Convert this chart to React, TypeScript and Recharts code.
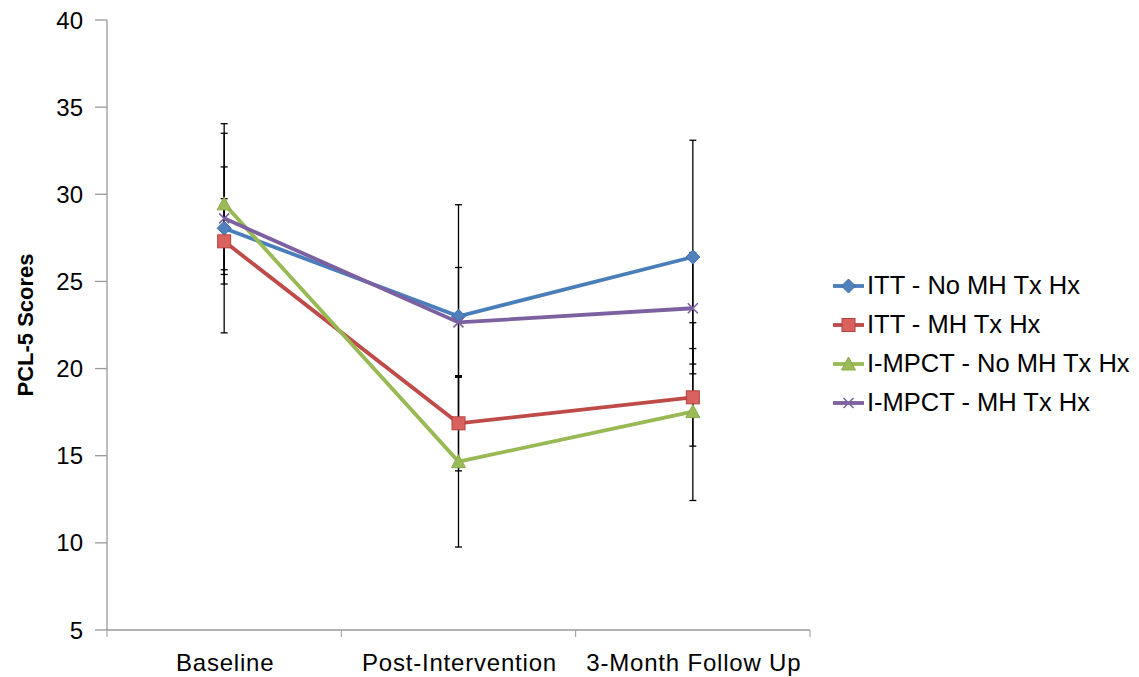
import { LineChart, Line, XAxis, YAxis, ErrorBar, Legend, Label } from "recharts"

const categories = ["Baseline", "Post-Intervention", "3-Month Follow Up"]

const ittNoMh = [28.05, 23.0, 26.4]
const ittNoMhSd = [6.0, 6.4, 6.7]
const ittMh = [27.3, 16.86, 18.35]
const ittMhSd = [2.45, 2.73, 2.8]
const mpctNoMh = [29.45, 14.66, 17.53]
const mpctNoMhSd = [4.05, 4.9, 5.1]
const mpctMh = [28.62, 22.65, 23.46]
const mpctMhSd = [2.95, 3.15, 3.2]

const yTicks = [5, 10, 15, 20, 25, 30, 35, 40]
const xTicks = [0, 0.5, 1, 1.5, 2, 2.5, 3]

const FONT = '"Liberation Sans", Arial, sans-serif'
const AXIS = "#999999"

type Shape = "diamond" | "square" | "triangle" | "cross"

const series: { key: string; name: string; color: string; fill: string; shape: Shape }[] = [
  { key: "ittNoMh", name: "ITT - No MH Tx Hx", color: "#4A7EBB", fill: "#4F81BD", shape: "diamond" },
  { key: "ittMh", name: "ITT - MH Tx Hx", color: "#BE4B48", fill: "#D9625E", shape: "square" },
  { key: "mpctNoMh", name: "I-MPCT - No MH Tx Hx", color: "#98B954", fill: "#9BBB59", shape: "triangle" },
  { key: "mpctMh", name: "I-MPCT - MH Tx Hx", color: "#7D60A0", fill: "#8064A2", shape: "cross" },
]

const data = categories.map((name, i) => ({
  x: i + 0.5,
  name,
  ittNoMh: ittNoMh[i],
  ittNoMhErr: ittNoMhSd[i],
  ittMh: ittMh[i],
  ittMhErr: ittMhSd[i],
  mpctNoMh: mpctNoMh[i],
  mpctNoMhErr: mpctNoMhSd[i],
  mpctMh: mpctMh[i],
  mpctMhErr: mpctMhSd[i],
}))

function Marker({ cx, cy, shape, color, fill }: { cx: number; cy: number; shape: Shape; color: string; fill: string }) {
  if (shape === "diamond") {
    return (
      <polygon
        points={`${cx},${cy - 7} ${cx + 7},${cy} ${cx},${cy + 7} ${cx - 7},${cy}`}
        fill={fill}
        stroke="#3E6DA6"
        strokeWidth={1}
      />
    )
  }
  if (shape === "square") {
    return <rect x={cx - 6.5} y={cy - 6.5} width={13} height={13} fill={fill} stroke="#B4413E" strokeWidth={1} />
  }
  if (shape === "triangle") {
    return (
      <polygon
        points={`${cx},${cy - 7} ${cx + 7},${cy + 6} ${cx - 7},${cy + 6}`}
        fill={fill}
        stroke="#8AAA4B"
        strokeWidth={1}
      />
    )
  }
  return (
    <g stroke={color} strokeWidth={1.6}>
      <line x1={cx - 5} y1={cy - 5} x2={cx + 5} y2={cy + 5} />
      <line x1={cx - 5} y1={cy + 5} x2={cx + 5} y2={cy - 5} />
    </g>
  )
}

function XTick(props: any) {
  const { x, y, payload } = props
  const v = payload.value as number
  if (Number.isInteger(v)) {
    return <line x1={x} y1={y} x2={x} y2={y + 7} stroke={AXIS} strokeWidth={1} />
  }
  return (
    <text x={x + 1} y={y + 41} textAnchor="middle" fontSize={24} fill="#000" fontFamily={FONT} letterSpacing={0.8}>
      {categories[Math.floor(v)]}
    </text>
  )
}

function YTitle(props: any) {
  const { viewBox } = props
  const x = viewBox.x + 25
  const y = viewBox.y + viewBox.height / 2
  return (
    <text
      x={x}
      y={y}
      transform={`rotate(-90, ${x}, ${y})`}
      textAnchor="middle"
      fontSize={22}
      fontWeight="bold"
      fill="#000"
      fontFamily={FONT}
    >
      PCL-5 Scores
    </text>
  )
}

function LegendList() {
  return (
    <div style={{ fontFamily: FONT, fontSize: 25.5, color: "#000" }}>
      {series.map((s) => (
        <div key={s.key} style={{ display: "flex", alignItems: "center", height: 39, whiteSpace: "nowrap" }}>
          <svg width={31} height={16} style={{ marginRight: 3 }}>
            <line x1={0} y1={8} x2={31} y2={8} stroke={s.color} strokeWidth={3.8} />
            <Marker cx={15.5} cy={8} shape={s.shape} color={s.color} fill={s.fill} />
          </svg>
          <span>{s.name}</span>
        </div>
      ))}
    </div>
  )
}

export default function App() {
  return (
    <div style={{ width: 1123, height: 669, fontFamily: FONT }}>
      <LineChart width={1123} height={669} data={data} margin={{ top: 12, right: 321, bottom: 0, left: 0 }}>
        <XAxis
          dataKey="x"
          type="number"
          domain={[0, 3]}
          ticks={xTicks}
          interval={0}
          height={47}
          tickLine={false}
          tickSize={0}
          tickMargin={0}
          axisLine={{ stroke: AXIS, strokeWidth: 1.3 }}
          tick={<XTick />}
        />
        <YAxis
          type="number"
          domain={[5, 40]}
          ticks={yTicks}
          interval={0}
          width={99}
          tickSize={12}
          tickMargin={12}
          axisLine={{ stroke: AXIS, strokeWidth: 1.3 }}
          tickLine={{ stroke: AXIS, strokeWidth: 1.3 }}
          tick={{ fill: "#000", fontSize: 24, fontFamily: FONT }}
        >
          <Label content={<YTitle />} />
        </YAxis>
        <Legend
          layout="vertical"
          align="center"
          verticalAlign="middle"
          content={<LegendList />}
          wrapperStyle={{ left: 825, top: 258, width: 300 }}
        />
        {series.map((s) => (
          <Line
            key={s.key}
            dataKey={s.key}
            name={s.name}
            stroke={s.color}
            strokeWidth={3.8}
            isAnimationActive={false}
            dot={(p: any) => (
              <Marker key={`${s.key}-${p.index}`} cx={p.cx} cy={p.cy} shape={s.shape} color={s.color} fill={s.fill} />
            )}
            activeDot={false}
          >
            <ErrorBar dataKey={`${s.key}Err`} direction="y" width={3.5} stroke="#000" strokeWidth={1.3} />
          </Line>
        ))}
      </LineChart>
    </div>
  )
}
